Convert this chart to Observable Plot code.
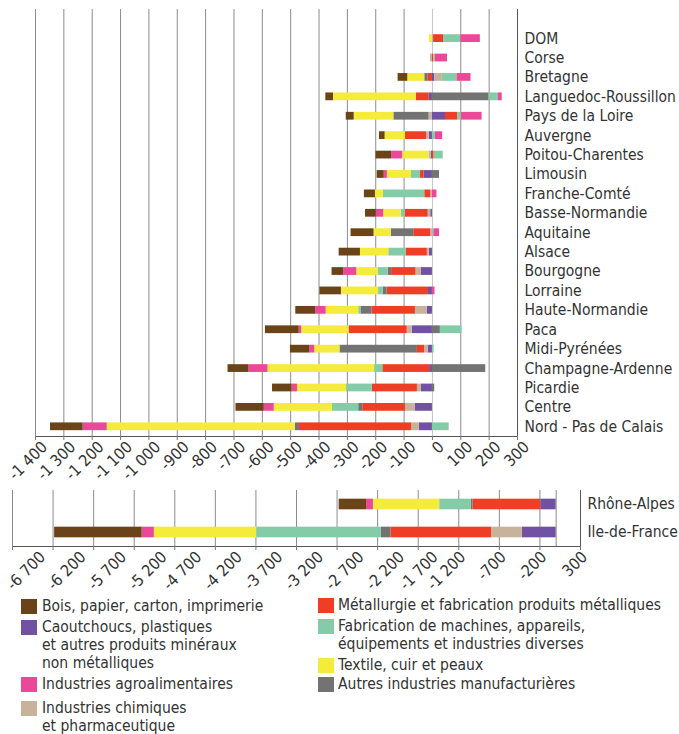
<!DOCTYPE html>
<html lang="fr">
<head>
<meta charset="utf-8">
<script src="https://cdn.jsdelivr.net/npm/d3@7"></script>
<script src="https://cdn.jsdelivr.net/npm/@observablehq/plot@0.6"></script>
<style>
  html, body { margin: 0; padding: 0; background: #fff; }
  body { width: 679px; height: 734px; overflow: hidden; font-family: "DejaVu Sans Condensed", "DejaVu Sans", sans-serif; color: #333; }
  #legend { position: relative; height: 140px; font-size: 15.5px; line-height: 18px; color: #333; }
  .item { position: absolute; }
  .sw { position: absolute; width: 16px; height: 15px; top: 2px; }
  .lab { position: absolute; white-space: nowrap; }
</style>
</head>
<body>
<div id="top"></div>
<div id="bottom"></div>
<div id="legend"></div>
<script>
// ---- Categories ----
const regions = ["DOM","Corse","Bretagne","Languedoc-Roussillon","Pays de la Loire","Auvergne","Poitou-Charentes","Limousin","Franche-Comté","Basse-Normandie","Aquitaine","Alsace","Bourgogne","Lorraine","Haute-Normandie","Paca","Midi-Pyrénées","Champagne-Ardenne","Picardie","Centre","Nord - Pas de Calais"];
const regionsBig = ["Rhône-Alpes","Ile-de-France"];

// ---- Sectors (stack order from the axis outward) ----
const sectorNames = [
  "Caoutchoucs, plastiques et autres produits minéraux non métalliques",
  "Industries chimiques et pharmaceutique",
  "Métallurgie et fabrication produits métalliques",
  "Autres industries manufacturières",
  "Fabrication de machines, appareils, équipements et industries diverses",
  "Textile, cuir et peaux",
  "Industries agroalimentaires",
  "Bois, papier, carton, imprimerie"
];
const sectorColors = ["#7151a1","#c9b29b","#ef3e25","#737373","#84cba8","#f4eb3b","#ec4899","#6b4318"];

// ---- Series values, top panel (same order as regions) ----
const caoutchoucs = [0, 0, 8, -11, 46, -11, -4, -29, 0, -6, 0, -11, -39, -14, -18, -71, -15, -10, -39, -60, -46];
const chimiques   = [4, -7, 27, 0, -12, -9, -8, 0, -6, -9, -6, -7, -19, 0, -42, -18, -13, 0, -14, -35, -27];
const metallurgie = [35, 5, -15, -46, 44, -75, 6, -13, -21, -81, -60, -75, -86, -146, -153, -205, -25, -165, -159, -151, -396];
const autres      = [0, 0, -12, 200, -124, 0, 0, 25, 0, 0, -79, 0, -12, -14, -39, 28, -273, 188, 8, -14, -14];
const machines    = [61, 5, 52, 32, 12, 10, 32, -32, -146, -14, 5, -61, -35, -16, -8, 76, 6, -29, -91, -93, 59];
const textile     = [-10, 0, -60, -292, -140, -72, -93, -85, -28, -62, -61, -100, -76, -131, -115, -167, -89, -376, -173, -205, -664];
const agro        = [69, 43, 49, 14, 73, 26, -39, -11, 16, -26, 20, 0, -46, 9, -36, -9, -18, -67, -19, -35, -85];
const bois        = [0, 0, -34, -27, -28, -20, -55, -25, -39, -38, -81, -75, -41, -76, -71, -119, -68, -74, -69, -100, -115];

// ---- Series values, bottom panel (same order as regionsBig) ----
const caoutchoucsBig = [-190, -417];
const chimiquesBig   = [0, -379];
const metallurgieBig = [-835, -1239];
const autresBig      = [-20, -123];
const machinesBig    = [-390, -1533];
const textileBig     = [-817, -1261];
const agroBig        = [-85, -150];
const boisBig        = [-337, -1079];

// ---- Tick values ----
const ticksTop = d3.range(-1400, 301, 100);
const ticksBottom = d3.range(-6700, 301, 500);
const domainTop = [-1400, 300];
const domainBottom = [-6700, 300];

// ---- Build long tables ----
function longTable(cats, series) {
  const out = [];
  cats.forEach((c, i) => series.forEach((arr, s) => out.push({region: c, sector: sectorNames[s], value: arr[i]})));
  return out;
}
const dataTop = longTable(regions, [caoutchoucs, chimiques, metallurgie, autres, machines, textile, agro, bois]);
const dataBottom = longTable(regionsBig, [caoutchoucsBig, chimiquesBig, metallurgieBig, autresBig, machinesBig, textileBig, agroBig, boisBig]);

const fmt = d => {
  const a = Math.abs(d);
  const s = a >= 1000 ? Math.floor(a / 1000) + "\u00a0" + String(a % 1000).padStart(3, "0") : String(a);
  return (d < 0 ? "-" : "") + s;
};

const FONT = '"DejaVu Sans Condensed", "DejaVu Sans", sans-serif';

function panel({data, cats, domain, height, marginTop, marginBottom, marginLeft, marginRight, padIn, zeroStroke, blankTop, axes, gridTicks}) {
  const yDomain = blankTop ? [""].concat(cats) : cats;
  return Plot.plot({
    width: 679,
    height,
    marginTop, marginBottom, marginLeft, marginRight,
    style: {fontFamily: FONT, fontSize: "15px", color: "#333", background: "#fff"},
    x: {domain, label: null},
    y: {domain: yDomain, paddingInner: padIn, paddingOuter: padIn / 2, round: false, label: null},
    color: {domain: sectorNames, range: sectorColors},
    marks: [
      Plot.gridX(gridTicks.filter(t => t !== 0 && t !== domain[1]), {stroke: "#8c8c8c", strokeOpacity: 1}),
      Plot.ruleX([0], {stroke: zeroStroke}),
      Plot.barX(data, Plot.stackX({x: "value", y: "region", fill: "sector", order: sectorNames})),
      Plot.ruleX([domain[1]], {stroke: "#555"}),
      Plot.frame({anchor: "bottom", stroke: "#555"}),
      Plot.axisX({ticks: gridTicks, tickFormat: null, text: null, tickSize: 4, stroke: "#777", label: null}),
      ...axes.map(a => Plot.axisX({ticks: a.ticks, tickFormat: fmt, tickRotate: -45, tickSize: 0, tickPadding: 6, dx: a.dx, dy: a.dy, fontSize: 16, fill: "#333", label: null})),
      Plot.axisY({anchor: "right", tickSize: 0, tickPadding: 7, fill: "#333", fontSize: 15.5, label: null, tickFormat: d => d})
    ]
  });
}

document.getElementById("top").appendChild(panel({
  data: dataTop, cats: regions, domain: domainTop, gridTicks: ticksTop,
  axes: [{ticks: ticksTop, dx: 9, dy: 2}],
  height: 486, marginTop: 9, marginBottom: 50, marginLeft: 35, marginRight: 162,
  padIn: 0.6, zeroStroke: "#c4c4c4", blankTop: true
}));

document.getElementById("bottom").appendChild(panel({
  data: dataBottom, cats: regionsBig, domain: domainBottom, gridTicks: ticksBottom,
  axes: [
    {ticks: ticksBottom.filter(t => t <= -5200), dx: 30, dy: 2},
    {ticks: ticksBottom.filter(t => t > -5200 && t <= -2200), dx: 24, dy: 2},
    {ticks: ticksBottom.filter(t => t === -1700), dx: 17, dy: 2},
    {ticks: ticksBottom.filter(t => t > -1700), dx: 4, dy: 2}
  ],
  height: 108, marginTop: 4, marginBottom: 48, marginLeft: 12, marginRight: 99,
  padIn: 0.62, zeroStroke: "#8c8c8c", blankTop: false
}));

// ---- Legend ----
const legendItems = [
  {s: 7, text: "Bois, papier, carton, imprimerie", left: 21, top: 3},
  {s: 0, text: "Caoutchoucs, plastiques<br>et autres produits minéraux<br>non métalliques", left: 21, top: 24},
  {s: 6, text: "Industries agroalimentaires", left: 21, top: 81},
  {s: 1, text: "Industries chimiques<br>et pharmaceutique", left: 21, top: 105},
  {s: 2, text: "Métallurgie et fabrication produits métalliques", left: 318, top: 2},
  {s: 4, text: "Fabrication de machines, appareils,<br>équipements et industries diverses", left: 318, top: 23},
  {s: 5, text: "Textile, cuir et peaux", left: 318, top: 62},
  {s: 3, text: "Autres industries manufacturières", left: 318, top: 81}
];
const legend = document.getElementById("legend");
legendItems.forEach(it => {
  const d = document.createElement("div");
  d.className = "item";
  d.style.left = it.left + "px";
  d.style.top = it.top + "px";
  d.innerHTML = `<div class="sw" style="background:${sectorColors[it.s]}"></div><div class="lab" style="left:${it.left === 21 ? 21 : 20}px">${it.text}</div>`;
  legend.appendChild(d);
});
</script>
</body>
</html>
